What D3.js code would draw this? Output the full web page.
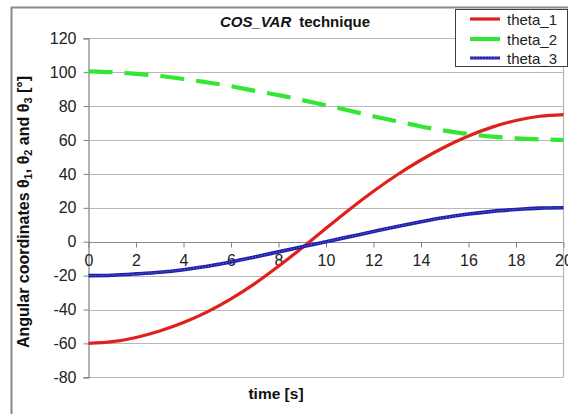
<!DOCTYPE html>
<html>
<head>
<meta charset="utf-8">
<script src="https://cdn.jsdelivr.net/npm/d3@7"></script>
<style>
  html, body { margin: 0; padding: 0; background: #fff; }
  svg { display: block; font-family: "Liberation Sans", Arial, sans-serif; }
</style>
</head>
<body>
<svg id="chart" width="568" height="414"></svg>
<script>
// ---- data ----
const time = [0,1,2,3,4,5,6,7,8,9,10,11,12,13,14,15,16,17,18,19,20];
const theta1 = [-60,-59,-56.5,-52.7,-47.7,-41.4,-33.7,-24.7,-14.5,-3.5,7.9,19.2,29.8,39.5,48.2,55.9,62.4,67.6,71.5,74,75];
const theta2 = [100.5,100,99,97.8,96,94,91.8,89,86.5,83.5,80.5,77.3,74,71,68,65.5,63.5,62,61,60.4,60];
const theta3 = [-20,-19.8,-19,-18,-16.5,-14.5,-12,-9,-6,-3,0,3,6,9,11.8,14.3,16.3,17.9,19,19.8,20];
const seriesNames = ["theta_1","theta_2","theta_3"];
const xTicks = [0,2,4,6,8,10,12,14,16,18,20];
const yTicks = [-80,-60,-40,-20,0,20,40,60,80,100,120];

const svg = d3.select("#chart");

// outer frame
svg.append("rect").attr("x",11.5).attr("y",7.5).attr("width",600).attr("height",450)
  .attr("fill","#fff").attr("stroke","#8a8a8a").attr("stroke-width",2);

const x = d3.scaleLinear().domain([0,20]).range([88.5,563.5]);
const y = d3.scaleLinear().domain([-80,120]).range([377.3,38.3]);

// gridlines
svg.append("g").selectAll("line").data(yTicks).join("line")
  .attr("x1",x(0)).attr("x2",x(20))
  .attr("y1",d=>Math.round(y(d))+0.5).attr("y2",d=>Math.round(y(d))+0.5)
  .attr("stroke",d=>d===0?"#8c8c8c":"#b8b8b8").attr("stroke-width",1.2);
// right border
svg.append("line").attr("x1",x(20)).attr("x2",x(20)).attr("y1",y(120)).attr("y2",y(-80))
  .attr("stroke","#b8b8b8").attr("stroke-width",1.2);

const fmt = d => String(d);

// y axis
const yAxis = d3.axisLeft(y).tickValues(yTicks).tickFormat(fmt).tickSize(5).tickPadding(7);
const gy = svg.append("g").attr("transform",`translate(${x(0)},0)`).call(yAxis);
gy.select(".domain").attr("stroke","#808080").attr("stroke-width",1.2);
gy.selectAll(".tick line").attr("stroke","#808080");
gy.selectAll(".tick text").attr("font-size",16).attr("fill","#222")
  .attr("font-family","'Liberation Sans', Arial, sans-serif");

// x axis at y=0
const xAxis = d3.axisBottom(x).tickValues(xTicks).tickFormat(fmt).tickSize(5).tickPadding(7);
const gx = svg.append("g").attr("transform",`translate(0,${Math.round(y(0))+0.5})`).call(xAxis);
gx.select(".domain").remove();
gx.selectAll(".tick line").attr("stroke","#808080");
gx.selectAll(".tick text").attr("font-size",16).attr("fill","#222")
  .attr("font-family","'Liberation Sans', Arial, sans-serif");

// lines
const line = d3.line().x((d,i)=>x(time[i])).y(d=>y(d)).curve(d3.curveNatural);
svg.append("path").datum(theta1).attr("d",line).attr("fill","none")
  .attr("stroke","#e0201c").attr("stroke-width",3.2);
svg.append("path").datum(theta2).attr("d",line).attr("fill","none")
  .attr("stroke","#33e633").attr("stroke-width",4.2).attr("stroke-dasharray","24,12");
svg.append("path").datum(theta3).attr("d",line).attr("fill","none")
  .attr("stroke","#1f1faa").attr("stroke-width",3.6);
svg.append("path").datum(theta3).attr("d",line).attr("fill","none")
  .attr("stroke","#7b7be0").attr("stroke-width",1).attr("stroke-dasharray","1,2");

// title
const title = svg.append("text").attr("x",295).attr("y",26.5).attr("text-anchor","middle")
  .attr("font-size",15).attr("font-weight","bold").attr("fill","#111");
title.append("tspan").attr("font-style","italic").text("COS_VAR");
title.append("tspan").attr("dx",8).text("technique");

// axis labels
svg.append("text").attr("x",276).attr("y",399).attr("text-anchor","middle")
  .attr("font-size",15.5).attr("font-weight","bold").attr("fill","#111").text("time [s]");

const yl = svg.append("text").attr("transform","translate(29,212) rotate(-90)")
  .attr("text-anchor","middle").attr("font-size",16).attr("font-weight","bold").attr("fill","#111");
yl.append("tspan").text("Angular coordinates  \u03B8");
yl.append("tspan").attr("font-size",11).attr("dy",3).text("1");
yl.append("tspan").attr("dy",-3).text(", \u03B8");
yl.append("tspan").attr("font-size",11).attr("dy",3).text("2");
yl.append("tspan").attr("dy",-3).text(" and \u03B8");
yl.append("tspan").attr("font-size",11).attr("dy",3).text("3");
yl.append("tspan").attr("dy",-3).text(" [\u00B0]");

// legend
const lg = svg.append("g");
lg.append("rect").attr("x",455.5).attr("y",9.5).attr("width",112).attr("height",57)
  .attr("fill","#fff").attr("stroke","#404040").attr("stroke-width",1);
const legY = [19,39,58];
const styles = [
  {stroke:"#e0201c", w:3.2},
  {stroke:"#33e633", w:4.2},
  {stroke:"#1f1faa", w:3}
];
seriesNames.forEach((n,i)=>{
  lg.append("line").attr("x1",470).attr("x2",500).attr("y1",legY[i]).attr("y2",legY[i])
    .attr("stroke",styles[i].stroke).attr("stroke-width",styles[i].w);
  if(i===2){
    lg.append("line").attr("x1",470).attr("x2",500).attr("y1",legY[i]).attr("y2",legY[i])
      .attr("stroke","#7b7be0").attr("stroke-width",1).attr("stroke-dasharray","1,2");
  }
  lg.append("text").attr("x",507).attr("y",legY[i]+5.5).attr("font-size",15).attr("fill","#222").text(n);
});
</script>
</body>
</html>
